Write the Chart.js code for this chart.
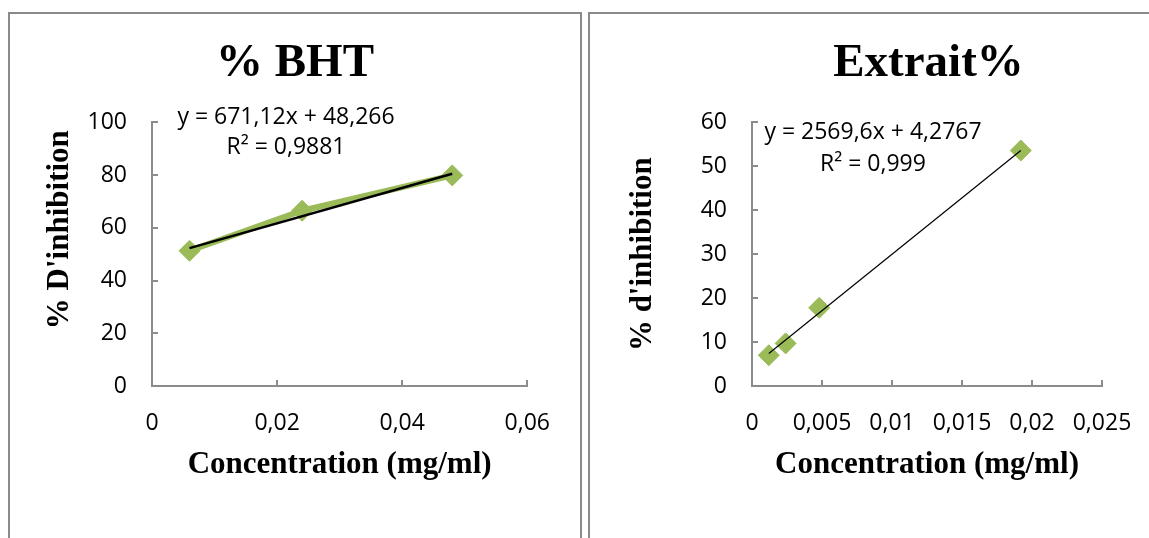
<!DOCTYPE html>
<html>
<head>
<meta charset="utf-8">
<script src="https://cdn.jsdelivr.net/npm/chart.js@4.4.0/dist/chart.umd.min.js"></script>
<style>
    html, body { margin: 0; padding: 0; background: #fff; overflow: hidden; width: 1149px; height: 538px; }
    .panel { position: absolute; top: 12px; border: 2px solid #8a8a8a; border-bottom: none; height: 540px; overflow: hidden; }
    #panelBht { left: 8px; width: 570px; }
    #panelExt { left: 588px; width: 677px; }
    canvas { display: block; }
</style>
</head>
<body>
<div class="panel" id="panelBht"><canvas id="bhtChart" width="570" height="524"></canvas></div>
<div class="panel" id="panelExt"><canvas id="extChart" width="677" height="524"></canvas></div>

<script>
// BHT series
const bhtConc = [0.006, 0.024, 0.048];
const bhtInhib = [51.3, 66.5, 79.9];
const bhtTrendX = [0.006, 0.048];
const bhtTrendY = [52.3, 80.5];
const bhtXTicks = ['0', '0,02', '0,04', '0,06'];
const bhtYTicks = ['0', '20', '40', '60', '80', '100'];
const bhtEquation = ['y = 671,12x + 48,266', 'R\u00B2 = 0,9881'];

// Extrait series
const extConc = [0.0012, 0.0024, 0.0048, 0.0192];
const extInhib = [7.0, 9.7, 17.8, 53.6];
const extTrendX = [0.0012, 0.0192];
const extTrendY = [7.4, 53.6];
const extXTicks = ['0', '0,005', '0,01', '0,015', '0,02', '0,025'];
const extYTicks = ['0', '10', '20', '30', '40', '50', '60'];
const extEquation = ['y = 2569,6x + 4,2767', 'R\u00B2 = 0,999'];

const GREEN = '#9bbb59';
const AXIS_GREY = '#8c8c8c';
const SERIF = "'Liberation Serif', 'Times New Roman', serif";
const SANS = "'Open Sans', 'Liberation Sans', sans-serif";

// Draws the trendline equation text near the top of the plot
const equationPlugin = {
    id: 'equation',
    afterDatasetsDraw(chart, args, opts) {
        const ctx = chart.ctx;
        const area = chart.chartArea;
        ctx.save();
        ctx.font = '23px ' + SANS;
        ctx.fillStyle = '#000';
        ctx.textAlign = 'center';
        ctx.textBaseline = 'middle';
        opts.lines.forEach((line, i) => {
            ctx.fillText(line, area.left + opts.dx, area.top + opts.dy[i]);
        });
        ctx.restore();
    }
};

function toPoints(xs, ys) {
    return xs.map((x, i) => ({ x: x, y: ys[i] }));
}

function buildChart(canvasId, cfg) {
    const ctx = document.getElementById(canvasId).getContext('2d');
    return new Chart(ctx, {
        type: 'scatter',
        data: {
            datasets: [
                {
                    data: toPoints(cfg.trendX, cfg.trendY),
                    showLine: true,
                    borderColor: '#000',
                    borderWidth: cfg.trendWidth,
                    pointRadius: 0,
                    order: 0,
                    yAxisID: 'y'
                },
                {
                    data: toPoints(cfg.x, cfg.y),
                    showLine: cfg.connect,
                    borderColor: GREEN,
                    borderWidth: 6,
                    backgroundColor: GREEN,
                    pointStyle: 'rectRot',
                    pointRadius: cfg.markerRadius,
                    pointBorderWidth: 1,
                    pointBorderColor: GREEN,
                    order: 1,
                    yAxisID: 'y'
                }
            ]
        },
        options: {
            responsive: false,
            animation: false,
            events: [],
            layout: { padding: 0 },
            plugins: {
                legend: { display: false },
                tooltip: { enabled: false },
                title: {
                    display: true,
                    text: cfg.title,
                    color: '#000',
                    font: { family: SERIF, size: 47, weight: 'bold', lineHeight: 1.2 },
                    padding: { top: 22, bottom: 30 }
                },
                equation: { lines: cfg.equation, dx: cfg.eqDx, dy: cfg.eqDy }
            },
            scales: {
                y: {
                    type: 'linear',
                    position: 'left',
                    min: 0,
                    max: cfg.yMax,
                    afterFit: s => { s.width = cfg.yAxisWidth; },
                    ticks: {
                        stepSize: cfg.yStep,
                        padding: 31,
                        color: '#000',
                        font: { family: SANS, size: 23 },
                        callback: (v, i) => cfg.yTicks[i]
                    },
                    grid: { drawOnChartArea: false, tickLength: -6, color: AXIS_GREY, lineWidth: 2 },
                    border: { color: AXIS_GREY, width: 2 },
                    title: {
                        display: true,
                        text: cfg.yTitle,
                        align: cfg.yTitleAlign,
                        color: '#000',
                        font: { family: SERIF, size: 31, weight: 'bold', lineHeight: 1.2 },
                        padding: { top: cfg.yTitlePad, bottom: 0 }
                    }
                },
                x: {
                    type: 'linear',
                    position: 'bottom',
                    min: 0,
                    max: cfg.xMax,
                    afterFit: s => { s.height = 152; },
                    ticks: {
                        stepSize: cfg.xStep,
                        padding: 30,
                        maxRotation: 0,
                        color: '#000',
                        font: { family: SANS, size: 23 },
                        callback: (v, i) => cfg.xTicks[i]
                    },
                    grid: { drawOnChartArea: false, tickLength: -6, color: AXIS_GREY, lineWidth: 2 },
                    border: { color: AXIS_GREY, width: 2 },
                    title: {
                        display: true,
                        text: 'Concentration (mg/ml)',
                        color: '#000',
                        font: { family: SERIF, size: 31, weight: 'bold', lineHeight: 1.2 },
                        padding: { top: 0, bottom: 54 }
                    }
                },
                // empty right-hand axis, only keeps the space right of the plot
                pad: {
                    type: 'linear',
                    position: 'right',
                    display: true,
                    afterFit: s => { s.width = cfg.rightSpace; },
                    ticks: { display: false },
                    grid: { display: false },
                    border: { display: false }
                }
            }
        },
        plugins: [equationPlugin]
    });
}

document.addEventListener('DOMContentLoaded', function() {
    buildChart('bhtChart', {
        title: '% BHT',
        x: bhtConc, y: bhtInhib,
        trendX: bhtTrendX, trendY: bhtTrendY,
        trendWidth: 2.5,
        connect: true,
        markerRadius: 10.5,
        xMax: 0.06, xStep: 0.02, xTicks: bhtXTicks,
        yMax: 100, yStep: 20, yTicks: bhtYTicks,
        yTitle: "% D'inhibition ",
        yTitleAlign: 'end',
        yTitlePad: 31,
        yAxisWidth: 142,
        rightSpace: 52,
        equation: bhtEquation, eqDx: 134, eqDy: [-5, 25]
    });

    buildChart('extChart', {
        title: 'Extrait%',
        x: extConc, y: extInhib,
        trendX: extTrendX, trendY: extTrendY,
        trendWidth: 1.2,
        connect: false,
        markerRadius: 10.5,
        xMax: 0.025, xStep: 0.005, xTicks: extXTicks,
        yMax: 60, yStep: 10, yTicks: extYTicks,
        yTitle: "% d'inhibition",
        yTitleAlign: 'center',
        yTitlePad: 34,
        yAxisWidth: 162,
        rightSpace: 165,
        equation: extEquation, eqDx: 121, eqDy: [10, 42]
    });
});
</script>
</body>
</html>
